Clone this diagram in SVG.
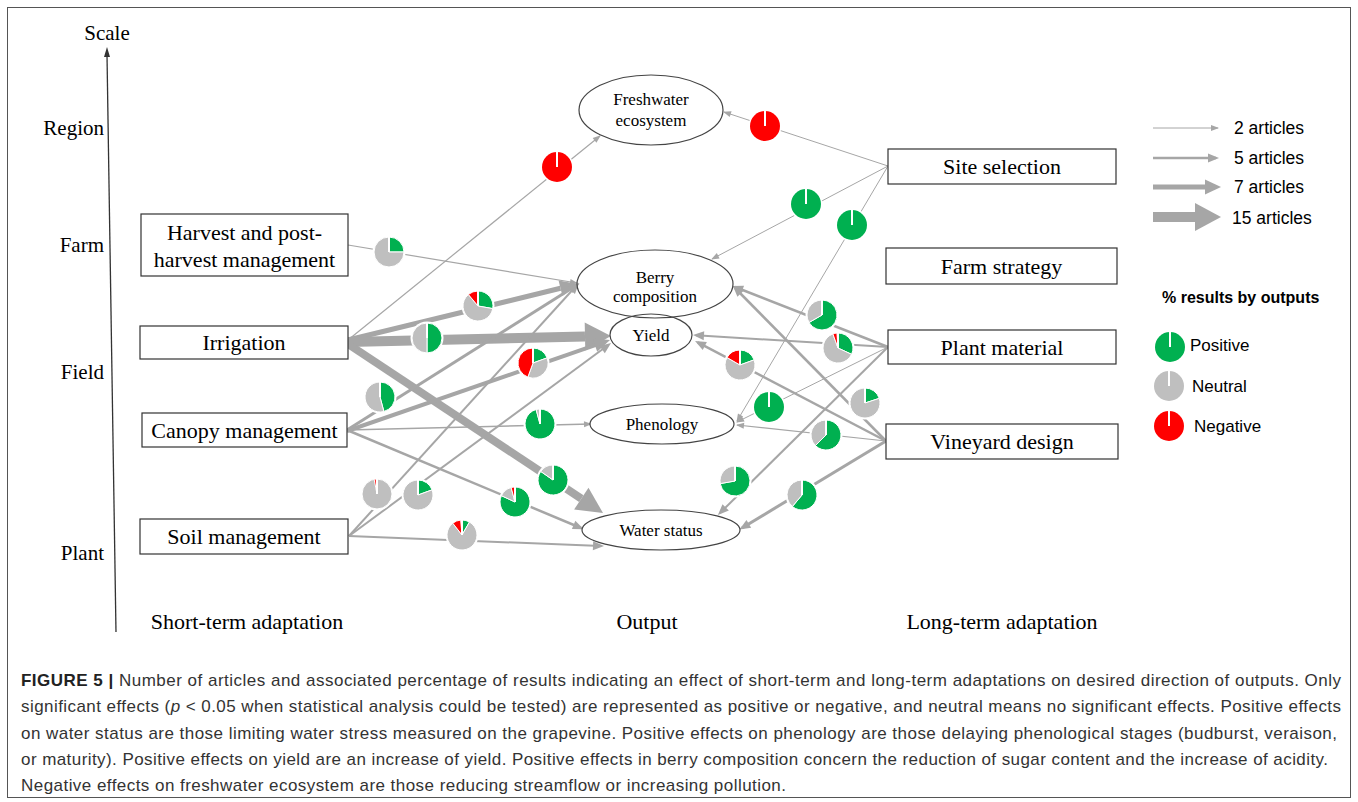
<svg xmlns="http://www.w3.org/2000/svg" width="1358" height="802" viewBox="0 0 1358 802">
<style>
.serif{font-family:"Liberation Serif","Times New Roman",serif;fill:#000}
.sans{font-family:"Liberation Sans",Arial,sans-serif;fill:#000}
.box{fill:#fff;stroke:#333;stroke-width:1.2}
.ell{fill:#fff;stroke:#444;stroke-width:1.2}
.bt{font-size:22px;text-anchor:middle}
.et{font-size:17px;text-anchor:middle}
.ax{font-size:21px}
.cn{fill:none;stroke:#A6A6A6}
.hd{fill:#A6A6A6;stroke:none}
.g{fill:#00B050}.n{fill:#BFBFBF}.r{fill:#FF0000}
.pie path,.pie circle.c{stroke:#fff;stroke-width:1}
.halo{fill:#fff}
.tk{stroke:#fff;stroke-width:2}
.cap{font-family:"Liberation Sans",Arial,sans-serif;font-size:17px;fill:#333}
</style>
<defs>
<marker id="m1" markerUnits="userSpaceOnUse" markerWidth="8" markerHeight="6" refX="7" refY="3" orient="auto" overflow="visible"><path d="M0,0 L8,3 L0,6 z" fill="#A6A6A6"/></marker>
<marker id="m2" markerUnits="userSpaceOnUse" markerWidth="11" markerHeight="9" refX="8" refY="4.5" orient="auto" overflow="visible"><path d="M0,0 L11,4.5 L0,9 z" fill="#A6A6A6"/></marker>
<marker id="m3" markerUnits="userSpaceOnUse" markerWidth="16" markerHeight="14" refX="11" refY="7" orient="auto" overflow="visible"><path d="M0,0 L16,7 L0,14 z" fill="#A6A6A6"/></marker>
</defs>
<rect x="7.5" y="7.5" width="1343" height="790" fill="#fff" stroke="#555" stroke-width="1"/>

<!-- Scale axis -->
<g id="axis">
<line x1="116" y1="632" x2="107" y2="55" stroke="#333" stroke-width="1.3"/>
<polygon points="104,57 107,47 110,57" fill="#333"/>
<text class="serif ax" x="107" y="40" text-anchor="middle">Scale</text>
<text class="serif ax" x="104" y="135" text-anchor="end">Region</text>
<text class="serif ax" x="104" y="252" text-anchor="end">Farm</text>
<text class="serif ax" x="104" y="379" text-anchor="end">Field</text>
<text class="serif ax" x="104" y="560" text-anchor="end">Plant</text>
</g>

<g id="connectors">
<path class="cn" stroke-width="1.2" d="M348,245 L577,283" marker-end="url(#m1)"/>
<path class="cn" stroke-width="1.2" d="M348,340 L600,136" marker-end="url(#m1)"/>
<path class="cn" stroke-width="5" d="M348,340 L560.5,288.3"/>
<polygon class="hd" points="562.4,296 578,284 558.6,280.5"/>
<path class="cn" stroke-width="10" d="M348,342 L585,336.6"/>
<polygon class="hd" points="585.3,350.6 611,336 584.7,322.6"/>
<path class="cn" stroke-width="8" d="M348,344 L581.3,498.6"/>
<polygon class="hd" points="574.1,509.5 603,513 588.5,487.8"/>
<path class="cn" stroke-width="3" d="M347,430 L577,285" marker-end="url(#m2)"/>
<path class="cn" stroke-width="4" d="M347,431 L605.3,341.6" marker-end="url(#m3)"/>
<path class="cn" stroke-width="1.5" d="M347,430 L591,424" marker-end="url(#m1)"/>
<path class="cn" stroke-width="2.5" d="M347,430 L581,528" marker-end="url(#m2)"/>
<path class="cn" stroke-width="2" d="M349,536 L577,285" marker-end="url(#m2)"/>
<path class="cn" stroke-width="2" d="M349,536 L608.6,344.8" marker-end="url(#m2)"/>
<path class="cn" stroke-width="2" d="M349,536 L601,546" marker-end="url(#m2)"/>
<path class="cn" stroke-width="1" d="M888,166 L724,112" marker-end="url(#m1)"/>
<path class="cn" stroke-width="1" d="M888,166 L712,259" marker-end="url(#m1)"/>
<path class="cn" stroke-width="1" d="M888,166 L737,421" marker-end="url(#m1)"/>
<path class="cn" stroke-width="2.5" d="M888,347 L735,287" marker-end="url(#m2)"/>
<path class="cn" stroke-width="2" d="M888,347 L696,335.2" marker-end="url(#m2)"/>
<path class="cn" stroke-width="1" d="M888,347 L737,422" marker-end="url(#m1)"/>
<path class="cn" stroke-width="2" d="M888,347 L720,513" marker-end="url(#m2)"/>
<path class="cn" stroke-width="2.5" d="M886,441 L735,288" marker-end="url(#m2)"/>
<path class="cn" stroke-width="2.5" d="M886,441 L697.7,342.4" marker-end="url(#m2)"/>
<path class="cn" stroke-width="1.2" d="M886,441 L737,425" marker-end="url(#m1)"/>
<path class="cn" stroke-width="3" d="M886,441 L742,528" marker-end="url(#m2)"/>
</g>

<!-- Left boxes -->
<g id="harvest"><rect class="box" x="141" y="214" width="207" height="62"/>
<text class="serif bt" x="244.5" y="240">Harvest and post-</text>
<text class="serif bt" x="244.5" y="267">harvest management</text></g>
<g id="irrigation"><rect class="box" x="140" y="326" width="208" height="33"/>
<text class="serif bt" x="244" y="349.5">Irrigation</text></g>
<g id="canopy"><rect class="box" x="142" y="413" width="205" height="34"/>
<text class="serif bt" x="244.5" y="437.5">Canopy management</text></g>
<g id="soil"><rect class="box" x="140" y="519" width="208" height="35"/>
<text class="serif bt" x="244" y="544">Soil management</text></g>

<!-- Right boxes -->
<g id="site"><rect class="box" x="888" y="149" width="228" height="35"/>
<text class="serif bt" x="1002" y="174">Site selection</text></g>
<g id="farm"><rect class="box" x="886" y="248" width="231" height="36"/>
<text class="serif bt" x="1001.5" y="273.5">Farm strategy</text></g>
<g id="plant"><rect class="box" x="888" y="330" width="228" height="34"/>
<text class="serif bt" x="1002" y="354.5">Plant material</text></g>
<g id="vineyard"><rect class="box" x="886" y="424" width="232" height="35"/>
<text class="serif bt" x="1002" y="449">Vineyard design</text></g>

<!-- Outputs -->
<g id="freshwater"><ellipse class="ell" cx="651" cy="110" rx="72" ry="35"/>
<text class="serif et" x="651" y="105">Freshwater</text>
<text class="serif et" x="651" y="126">ecosystem</text></g>
<g id="yield"><ellipse class="ell" cx="651" cy="335" rx="41" ry="21"/>
<text class="serif et" x="651" y="341">Yield</text></g>
<g id="berry"><ellipse class="ell" cx="655" cy="284" rx="78" ry="34" style="fill:none"/>
<text class="serif et" x="655" y="283">Berry</text>
<text class="serif et" x="655" y="302">composition</text></g>
<g id="phenology"><ellipse class="ell" cx="662" cy="424" rx="72" ry="20"/>
<text class="serif et" x="662" y="430">Phenology</text></g>
<g id="water"><ellipse class="ell" cx="661" cy="530" rx="79" ry="20"/>
<text class="serif et" x="661" y="536">Water status</text></g>

<!-- Pies -->
<g id="pies">
<g class="pie" transform="translate(389,252)"><circle class="halo" r="16.5"/>
<path class="g" d="M0,0 L0,-15 A15,15 0 0,1 15,0 Z"/><path class="n" d="M0,0 L15,0 A15,15 0 1,1 0,-15 Z"/><line class="tk" x1="0" y1="0" x2="0" y2="-15"/></g>
<g class="pie" transform="translate(557,167)"><circle class="halo" r="16.5"/><circle class="r" r="15"/><line class="tk" x1="0" y1="0" x2="0" y2="-15"/></g>
<g class="pie" transform="translate(478,306)"><circle class="halo" r="16.5"/>
<path class="g" d="M0,0 L0,-15 A15,15 0 0,1 14.77,2.6 Z"/><path class="n" d="M0,0 L14.77,2.6 A15,15 0 1,1 -9.64,-11.49 Z"/><path class="r" d="M0,0 L-9.64,-11.49 A15,15 0 0,1 0,-15 Z"/><line class="tk" x1="0" y1="0" x2="0" y2="-15"/></g>
<g class="pie" transform="translate(427,338)"><circle class="halo" r="16.5"/>
<path class="g" d="M0,0 L0,-15 A15,15 0 0,1 0,15 Z"/><path class="n" d="M0,0 L0,15 A15,15 0 0,1 0,-15 Z"/><line class="tk" x1="0" y1="0" x2="0" y2="-15"/></g>
<g class="pie" transform="translate(553,480)"><circle class="halo" r="16.5"/>
<path class="g" d="M0,0 L0,-15 A15,15 0 1,1 -12.29,-8.6 Z"/><path class="n" d="M0,0 L-12.29,-8.6 A15,15 0 0,1 0,-15 Z"/><line class="tk" x1="0" y1="0" x2="0" y2="-15"/></g>
<g class="pie" transform="translate(380,397)"><circle class="halo" r="16.5"/>
<path class="g" d="M0,0 L0,-15 A15,15 0 0,1 3.88,14.49 Z"/><path class="n" d="M0,0 L3.88,14.49 A15,15 0 1,1 0,-15 Z"/><line class="tk" x1="0" y1="0" x2="0" y2="-15"/></g>
<g class="pie" transform="translate(533,363)"><circle class="halo" r="16.5"/>
<path class="g" d="M0,0 L0,-15 A15,15 0 0,1 14.1,-5.13 Z"/><path class="n" d="M0,0 L14.1,-5.13 A15,15 0 0,1 -5.13,14.1 Z"/><path class="r" d="M0,0 L-5.13,14.1 A15,15 0 0,1 0,-15 Z"/><line class="tk" x1="0" y1="0" x2="0" y2="-15"/></g>
<g class="pie" transform="translate(540,424)"><circle class="halo" r="16.5"/>
<path class="g" d="M0,0 L0,-15 A15,15 0 1,1 -3.88,-14.49 Z"/><path class="n" d="M0,0 L-3.88,-14.49 A15,15 0 0,1 0,-15 Z"/><line class="tk" x1="0" y1="0" x2="0" y2="-15"/></g>
<g class="pie" transform="translate(515,502)"><circle class="halo" r="16.5"/>
<path class="g" d="M0,0 L0,-15 A15,15 0 1,1 -13.59,-6.34 Z"/><path class="n" d="M0,0 L-13.59,-6.34 A15,15 0 0,1 -3.88,-14.49 Z"/><path class="r" d="M0,0 L-3.88,-14.49 A15,15 0 0,1 0,-15 Z"/><line class="tk" x1="0" y1="0" x2="0" y2="-15"/></g>
<g class="pie" transform="translate(377,494)"><circle class="halo" r="16.5"/>
<circle class="n c" r="15"/><path class="r" d="M0,0 L-2.86,-14.72 A15,15 0 0,1 -0.79,-14.98 Z"/><line class="tk" x1="0" y1="0" x2="0" y2="-15"/></g>
<g class="pie" transform="translate(418,495)"><circle class="halo" r="16.5"/>
<path class="g" d="M0,0 L0,-15 A15,15 0 0,1 14.1,-5.13 Z"/><path class="n" d="M0,0 L14.1,-5.13 A15,15 0 1,1 0,-15 Z"/><line class="tk" x1="0" y1="0" x2="0" y2="-15"/></g>
<g class="pie" transform="translate(462,535)"><circle class="halo" r="16.5"/>
<path class="g" d="M0,0 L0,-15 A15,15 0 0,1 7.5,-12.99 Z"/><path class="n" d="M0,0 L7.5,-12.99 A15,15 0 1,1 -9.24,-11.82 Z"/><path class="r" d="M0,0 L-9.24,-11.82 A15,15 0 0,1 -1.31,-14.94 Z"/><line class="tk" x1="0" y1="0" x2="0" y2="-15"/></g>
<g class="pie" transform="translate(765,126)"><circle class="halo" r="16.5"/><circle class="r" r="15"/><line class="tk" x1="0" y1="0" x2="0" y2="-15"/></g>
<g class="pie" transform="translate(806,204)"><circle class="halo" r="16.5"/><circle class="g" r="15"/><line class="tk" x1="0" y1="0" x2="0" y2="-15"/></g>
<g class="pie" transform="translate(852,225)"><circle class="halo" r="16.5"/><circle class="g" r="15"/><line class="tk" x1="0" y1="0" x2="0" y2="-15"/></g>
<g class="pie" transform="translate(822,315)"><circle class="halo" r="16.5"/>
<path class="g" d="M0,0 L0,-15 A15,15 0 1,1 -12.99,7.5 Z"/><path class="n" d="M0,0 L-12.99,7.5 A15,15 0 0,1 0,-15 Z"/><line class="tk" x1="0" y1="0" x2="0" y2="-15"/></g>
<g class="pie" transform="translate(838,348)"><circle class="halo" r="16.5"/>
<path class="g" d="M0,0 L0,-15 A15,15 0 0,1 13.59,6.34 Z"/><path class="n" d="M0,0 L13.59,6.34 A15,15 0 1,1 -5.13,-14.1 Z"/><path class="r" d="M0,0 L-5.13,-14.1 A15,15 0 0,1 -1.05,-14.96 Z"/><line class="tk" x1="0" y1="0" x2="0" y2="-15"/></g>
<g class="pie" transform="translate(769,407)"><circle class="halo" r="16.5"/><circle class="g" r="15"/><line class="tk" x1="0" y1="0" x2="0" y2="-15"/></g>
<g class="pie" transform="translate(735,481)"><circle class="halo" r="16.5"/>
<path class="g" d="M0,0 L0,-15 A15,15 0 1,1 -14.77,2.6 Z"/><path class="n" d="M0,0 L-14.77,2.6 A15,15 0 0,1 0,-15 Z"/><line class="tk" x1="0" y1="0" x2="0" y2="-15"/></g>
<g class="pie" transform="translate(865,403)"><circle class="halo" r="16.5"/>
<path class="g" d="M0,0 L0,-15 A15,15 0 0,1 14.27,-4.64 Z"/><path class="n" d="M0,0 L14.27,-4.64 A15,15 0 1,1 0,-15 Z"/><line class="tk" x1="0" y1="0" x2="0" y2="-15"/></g>
<g class="pie" transform="translate(740,365)"><circle class="halo" r="16.5"/>
<path class="g" d="M0,0 L0,-15 A15,15 0 0,1 14.1,-5.13 Z"/><path class="n" d="M0,0 L14.1,-5.13 A15,15 0 1,1 -12.99,-7.5 Z"/><path class="r" d="M0,0 L-12.99,-7.5 A15,15 0 0,1 0,-15 Z"/><line class="tk" x1="0" y1="0" x2="0" y2="-15"/></g>
<g class="pie" transform="translate(826,435)"><circle class="halo" r="16.5"/>
<path class="g" d="M0,0 L0,-15 A15,15 0 1,1 -10.61,10.61 Z"/><path class="n" d="M0,0 L-10.61,10.61 A15,15 0 0,1 0,-15 Z"/><line class="tk" x1="0" y1="0" x2="0" y2="-15"/></g>
<g class="pie" transform="translate(802,495)"><circle class="halo" r="16.5"/>
<path class="g" d="M0,0 L0,-15 A15,15 0 1,1 -9.64,11.49 Z"/><path class="n" d="M0,0 L-9.64,11.49 A15,15 0 0,1 0,-15 Z"/><line class="tk" x1="0" y1="0" x2="0" y2="-15"/></g>
</g>

<!-- Column labels -->
<text class="serif" font-size="22" x="247" y="629" text-anchor="middle">Short-term adaptation</text>
<text class="serif" font-size="22" x="647" y="629" text-anchor="middle">Output</text>
<text class="serif" font-size="22" x="1002" y="629" text-anchor="middle">Long-term adaptation</text>

<!-- Legend -->
<g id="legend">
<line x1="1153" y1="128" x2="1218" y2="128" stroke="#A6A6A6" stroke-width="1" marker-end="url(#m1)"/>
<line x1="1153" y1="158" x2="1216" y2="158" stroke="#A6A6A6" stroke-width="2.5" marker-end="url(#m2)"/>
<line x1="1153" y1="187" x2="1206" y2="187" stroke="#A6A6A6" stroke-width="5"/>
<polygon class="hd" points="1205,179.5 1221,187 1205,194.5"/>
<line x1="1153" y1="217" x2="1196" y2="217" stroke="#A6A6A6" stroke-width="10"/>
<polygon class="hd" points="1195,203 1221,217 1195,231"/>
<text class="sans" font-size="17.5" x="1234" y="134">2 articles</text>
<text class="sans" font-size="17.5" x="1234" y="164">5 articles</text>
<text class="sans" font-size="17.5" x="1234" y="193">7 articles</text>
<text class="sans" font-size="17.5" x="1232" y="224">15 articles</text>
<text class="sans" font-size="16" font-weight="bold" x="1162" y="303">% results by outputs</text>
<g class="pie" transform="translate(1170,347)"><circle class="g" r="15"/><line class="tk" x1="0" y1="0" x2="0" y2="-15"/></g>
<g class="pie" transform="translate(1169,386)"><circle class="n" r="15"/><line class="tk" x1="0" y1="0" x2="0" y2="-15"/></g>
<g class="pie" transform="translate(1169,426)"><circle class="r" r="15"/><line class="tk" x1="0" y1="0" x2="0" y2="-15"/></g>
<text class="sans" font-size="17" x="1190" y="351">Positive</text>
<text class="sans" font-size="17" x="1192" y="392">Neutral</text>
<text class="sans" font-size="17" x="1194" y="432">Negative</text>
</g>

<!-- Caption -->
<g id="caption">
<text class="cap" x="21" y="686" textLength="1320" lengthAdjust="spacing"><tspan font-weight="bold" fill="#222">FIGURE 5 |</tspan> Number of articles and associated percentage of results indicating an effect of short-term and long-term adaptations on desired direction of outputs. Only</text>
<text class="cap" x="21" y="712" textLength="1320" lengthAdjust="spacing">significant effects (<tspan font-style="italic">p</tspan> &lt; 0.05 when statistical analysis could be tested) are represented as positive or negative, and neutral means no significant effects. Positive effects</text>
<text class="cap" x="21" y="739" textLength="1316" lengthAdjust="spacing">on water status are those limiting water stress measured on the grapevine. Positive effects on phenology are those delaying phenological stages (budburst, veraison,</text>
<text class="cap" x="21" y="765" textLength="1307" lengthAdjust="spacing">or maturity). Positive effects on yield are an increase of yield. Positive effects in berry composition concern the reduction of sugar content and the increase of acidity.</text>
<text class="cap" x="21" y="791" textLength="765" lengthAdjust="spacing">Negative effects on freshwater ecosystem are those reducing streamflow or increasing pollution.</text>
</g>
</svg>
